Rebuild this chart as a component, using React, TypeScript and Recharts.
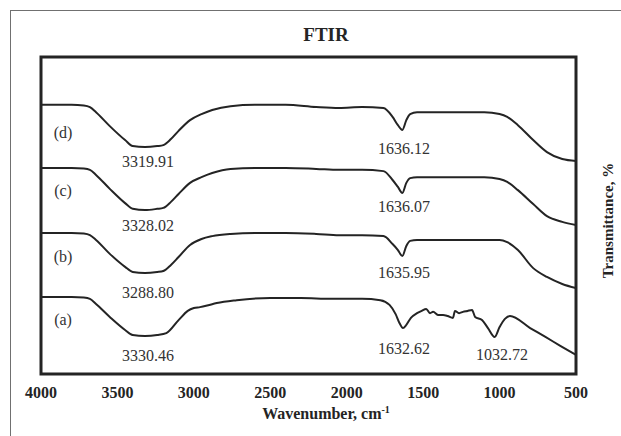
import { Line, LineChart, ReferenceArea, ReferenceDot, XAxis, YAxis } from "recharts";

// wavenumber grid shared by the three smooth spectra (b, c, d)
const waveSmooth = [
  4000, 3800, 3720, 3680, 3640, 3550, 3450, 3400, 3320, 3240, 3200, 3150, 3100, 3025, 2950, 2880, 2760, 2600,
  2400, 2200, 2050, 1900, 1760, 1700, 1665, 1636, 1610, 1585, 1540, 1400, 1200, 1100, 1000, 950, 880, 780, 690,
  590, 500,
];
const transD = [
  84.9, 84.9, 84.7, 84.2, 82.6, 78.2, 73.8, 71.9, 71.6, 71.9, 72.2, 74.1, 76.7, 80.1, 82.0, 83.3, 84.5, 84.9,
  84.9, 84.2, 83.9, 84.2, 83.9, 81.1, 78.5, 77.0, 80.1, 82.0, 82.6, 82.6, 82.6, 82.6, 82.0, 81.1, 78.5, 73.8, 70.0,
  67.8, 67.2,
];
const transC = [
  65.0, 65.0, 64.8, 64.4, 62.8, 58.4, 53.9, 52.1, 51.7, 52.1, 52.4, 54.3, 56.8, 60.3, 62.1, 63.4, 64.7, 65.0,
  65.0, 64.7, 64.4, 64.4, 64.0, 61.2, 59.0, 57.1, 60.3, 61.8, 62.1, 62.1, 62.1, 62.1, 61.5, 60.6, 58.0, 53.6, 49.8,
  48.0, 47.0,
];
const transB = [
  44.5, 44.5, 44.3, 43.8, 42.3, 37.9, 33.8, 32.2, 31.9, 32.2, 32.5, 34.4, 36.9, 40.7, 42.6, 43.5, 44.2, 44.5,
  44.5, 44.2, 43.8, 43.8, 43.5, 41.0, 39.1, 37.2, 40.4, 42.0, 42.3, 42.3, 42.3, 42.3, 42.3, 41.6, 39.1, 33.4, 30.6,
  28.4, 27.1,
];

// spectrum (a) has more structure below 1600
const waveA = [
  4000, 3800, 3720, 3680, 3640, 3550, 3450, 3400, 3320, 3240, 3180, 3100, 3040, 3000, 2960, 2920, 2850, 2720,
  2500, 2300, 2100, 1900, 1780, 1720, 1680, 1655, 1632, 1610, 1580, 1540, 1510, 1480, 1455, 1435, 1400, 1370,
  1340, 1305, 1292, 1265, 1240, 1210, 1180, 1160, 1115, 1076, 1032, 1000, 965, 932, 800, 700, 600, 500,
];
const transA = [
  24.3, 24.3, 24.1, 23.7, 22.1, 18.0, 13.9, 12.3, 12.0, 12.3, 12.9, 17.0, 19.9, 20.8, 21.1, 21.5, 22.4, 23.3,
  24.0, 24.0, 23.7, 23.7, 23.3, 21.8, 18.9, 16.1, 14.5, 15.5, 17.7, 19.2, 19.9, 20.5, 19.2, 19.6, 18.6, 18.6,
  18.3, 17.7, 19.9, 19.2, 19.6, 19.9, 20.2, 18.0, 17.0, 14.5, 11.7, 14.8, 17.4, 18.3, 14.5, 11.7, 8.8, 6.0,
];

const xTicks = [4000, 3500, 3000, 2500, 2000, 1500, 1000, 500];

// sample tags and peak annotations
const sampleNames = ["(a)", "(b)", "(c)", "(d)"];
const sampleWn = [3856, 3856, 3856, 3856];
const sampleT = [17.4, 37.2, 58.0, 76.3];

const peakNames = ["3319.91", "3328.02", "3288.80", "3330.46", "1636.12", "1636.07", "1635.95", "1632.62", "1032.72"];
const peakWn = [3300, 3300, 3300, 3300, 1625, 1625, 1625, 1625, 984];
const peakT = [67.2, 47.0, 25.9, 6.0, 71.3, 53.0, 32.2, 8.2, 6.3];

const toRows = (wn: number[], t: number[]) => wn.map((w, i) => ({ wn: w, t: t[i] }));

const serif = "'Liberation Serif', 'Times New Roman', serif";
const ink = "#242424";

const XTitle = (props: any) => {
  const vb = props.viewBox;
  return (
    <text
      x={vb.x + vb.width / 2 + 17.5}
      y={vb.y + 45}
      textAnchor="middle"
      fill={ink}
      fontFamily={serif}
      fontWeight="bold"
      fontSize={16}
    >
      <tspan>Wavenumber, cm</tspan>
      <tspan dy={-6} fontSize={10}>
        -1
      </tspan>
    </text>
  );
};

const YTitle = (props: any) => {
  const vb = props.viewBox;
  const x = vb.x + 32;
  const y = vb.y + vb.height / 2 + 5;
  return (
    <text
      x={x}
      y={y}
      transform={`rotate(-90, ${x}, ${y})`}
      textAnchor="middle"
      dominantBaseline="central"
      fill={ink}
      fontFamily={serif}
      fontWeight="bold"
      fontSize={15}
    >
      Transmittance, %
    </text>
  );
};

export default function App() {
  const series = [
    { key: "a", rows: toRows(waveA, transA) },
    { key: "b", rows: toRows(waveSmooth, transB) },
    { key: "c", rows: toRows(waveSmooth, transC) },
    { key: "d", rows: toRows(waveSmooth, transD) },
  ];

  return (
    <div
      style={{
        position: "absolute",
        left: 0,
        top: 0,
        width: 621,
        height: 436,
        overflow: "hidden",
        background: "#fff",
      }}
    >
      <div
        style={{
          position: "absolute",
          left: 10,
          top: 10,
          right: -4,
          bottom: -4,
          borderLeft: "1px solid #707070",
          borderTop: "1px solid #707070",
        }}
      />
      <div
        style={{
          position: "absolute",
          left: 0,
          top: 24,
          width: 652,
          textAlign: "center",
          fontFamily: serif,
          fontWeight: "bold",
          fontSize: 19,
          lineHeight: "normal",
          color: ink,
        }}
      >
        FTIR
      </div>
      <div style={{ position: "absolute", left: 0, top: 0 }}>
        <LineChart width={621} height={436} margin={{ top: 57, right: 0, bottom: 0, left: 41 }}>
          <XAxis
            type="number"
            dataKey="wn"
            domain={[500, 4000]}
            reversed
            allowDataOverflow
            ticks={xTicks}
            interval={0}
            axisLine={false}
            tickLine={false}
            tickMargin={7}
            height={62}
            tick={{ fill: ink, fontSize: 16, fontWeight: "bold", fontFamily: serif }}
            label={XTitle}
          />
          <YAxis
            type="number"
            orientation="right"
            domain={[0, 100]}
            allowDataOverflow
            width={45}
            tick={false}
            tickLine={false}
            axisLine={false}
            label={YTitle}
          />
          {series.map((s) => (
            <Line
              key={s.key}
              data={s.rows}
              dataKey="t"
              type="monotone"
              stroke={ink}
              strokeWidth={2}
              dot={false}
              activeDot={false}
              isAnimationActive={false}
            />
          ))}
          <ReferenceArea x1={500} x2={4000} y1={0} y2={100} fill="none" stroke={ink} strokeWidth={3} />
          {sampleNames.map((n, i) => (
            <ReferenceDot
              key={n}
              x={sampleWn[i]}
              y={sampleT[i]}
              r={0}
              fill="none"
              stroke="none"
              label={{ value: n, position: "center", fill: "#333", fontSize: 16, fontFamily: serif }}
            />
          ))}
          {peakNames.map((p, i) => (
            <ReferenceDot
              key={p}
              x={peakWn[i]}
              y={peakT[i]}
              r={0}
              fill="none"
              stroke="none"
              label={{ value: p, position: "center", fill: "#333", fontSize: 16, fontFamily: serif }}
            />
          ))}
        </LineChart>
      </div>
    </div>
  );
}
